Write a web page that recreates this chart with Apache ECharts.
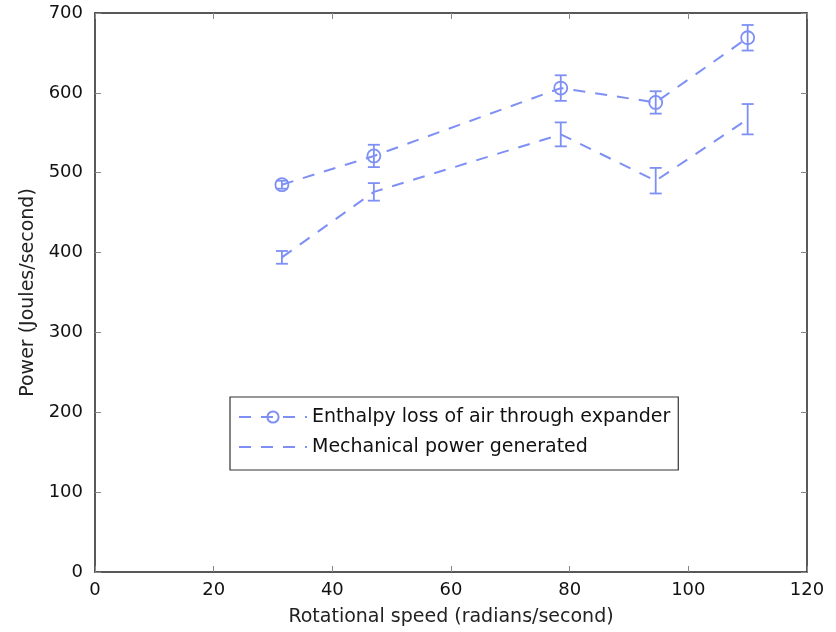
<!DOCTYPE html>
<html><head><meta charset="utf-8">
<script src="https://cdn.jsdelivr.net/npm/echarts@6/dist/echarts.min.js"></script>
<style>html,body{margin:0;padding:0;background:#fff}#c{width:836px;height:632px}</style>
</head><body><div id="c"></div>
<script>
var speeds = [31.5, 47, 78.5, 94.5, 110];
var enthalpy = [485, 521, 606, 588, 669];
var enthalpyErr = [5, 14, 16, 14, 16];
var mechanical = [394, 476, 548, 490, 567];
var mechanicalErr = [8, 11, 15, 16, 19];
var xTicks = [0, 20, 40, 60, 80, 100, 120];
var yTicks = [0, 100, 200, 300, 400, 500, 600, 700];

var COLOR = '#7e90f6';
function pairs(xs, ys){ return xs.map(function(x,i){return [x, ys[i]];}); }
function errData(xs, ys, es){ return xs.map(function(x,i){return [x, ys[i]-es[i], ys[i]+es[i]];}); }
function errRender(params, api){
  var x = api.value(0), lo = api.value(1), hi = api.value(2);
  var pl = api.coord([x, lo]), ph = api.coord([x, hi]);
  var hw = 6;
  var st = {stroke: COLOR, lineWidth: 1.8};
  return {type:'group', children:[
    {type:'line', shape:{x1:pl[0],y1:pl[1],x2:ph[0],y2:ph[1]}, style:st},
    {type:'line', shape:{x1:pl[0]-hw,y1:pl[1],x2:pl[0]+hw,y2:pl[1]}, style:st},
    {type:'line', shape:{x1:ph[0]-hw,y1:ph[1],x2:ph[0]+hw,y2:ph[1]}, style:st}
  ]};
}
var font = 'DejaVu Sans, sans-serif';
var chart = echarts.init(document.getElementById('c'));
var axisCommon = {
  axisLine:{show:true, onZero:false, lineStyle:{color:'#222', width:1.5}},
  axisTick:{show:true, inside:true, length:6, lineStyle:{color:'#888'}},
  splitLine:{show:false}
};
chart.setOption({
  animation:false,
  grid:{left:95, right:29, top:13, bottom:60},
  legend:{
    left:230, top:397, orient:'vertical', itemWidth:68, itemHeight:14, itemGap:8,
    padding:[9, 8, 12, 8], borderColor:'#333', borderWidth:1.2, backgroundColor:'#fff',
    textStyle:{fontFamily:font, fontSize:19, lineHeight:22, color:'#111'},
    data:[
      {name:'Enthalpy loss of air through expander'},
      {name:'Mechanical power generated', itemStyle:{color:'transparent', borderColor:'transparent', borderWidth:0}}
    ]
  },
  xAxis:[
    Object.assign({type:'value', min:xTicks[0], max:xTicks[xTicks.length-1], interval:20,
      name:'Rotational speed (radians/second)', nameLocation:'middle', nameGap:36,
      nameTextStyle:{fontFamily:font, fontSize:19, color:'#222'},
      axisLabel:{fontFamily:font, fontSize:18, color:'#111', margin:9}}, axisCommon),
    Object.assign({type:'value', position:'top', min:0, max:120, interval:20, axisLabel:{show:false}}, axisCommon)
  ],
  yAxis:[
    Object.assign({type:'value', min:yTicks[0], max:yTicks[yTicks.length-1], interval:100,
      name:'Power (Joules/second)', nameLocation:'middle', nameGap:52,
      nameTextStyle:{fontFamily:font, fontSize:19, color:'#222'},
      axisLabel:{fontFamily:font, fontSize:18, color:'#111', margin:12}}, axisCommon),
    Object.assign({type:'value', position:'right', min:0, max:700, interval:100, axisLabel:{show:false}}, axisCommon)
  ],
  series:[
    {name:'Enthalpy loss of air through expander', type:'line', data:pairs(speeds, enthalpy),
      symbol:'circle', symbolSize:13, showAllSymbol:true, z:4,
      itemStyle:{color:'transparent', borderColor:COLOR, borderWidth:1.8},
      lineStyle:{color:COLOR, width:2, type:[12,10]}, color:COLOR},
    {name:'Mechanical power generated', type:'line', data:pairs(speeds, mechanical),
      symbol:'none', lineStyle:{color:COLOR, width:2, type:[12,10]}, itemStyle:{color:COLOR}, color:COLOR},
    {type:'custom', renderItem:errRender, data:errData(speeds, enthalpy, enthalpyErr), z:3, silent:true},
    {type:'custom', renderItem:errRender, data:errData(speeds, mechanical, mechanicalErr), z:3, silent:true}
  ]
});
</script></body></html>
